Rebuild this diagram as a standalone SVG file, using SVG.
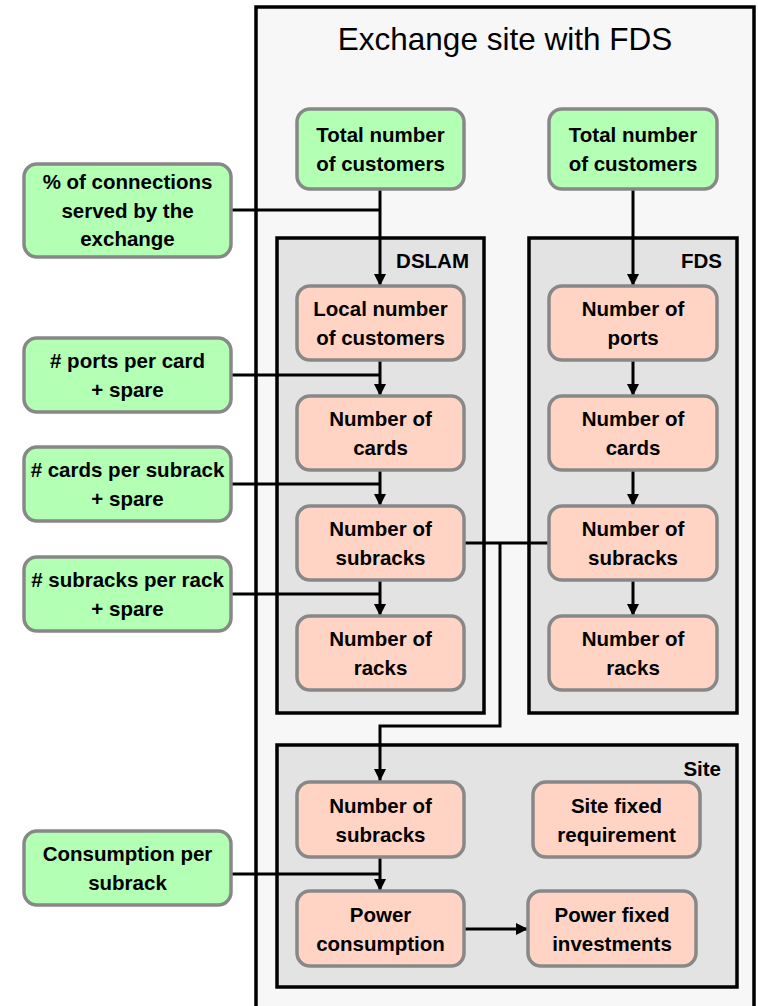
<svg xmlns="http://www.w3.org/2000/svg" width="758" height="1006" viewBox="0 0 758 1006">
<defs>
<style>
.outer{fill:#f7f7f7;stroke:#000;stroke-width:3.5}
.grp{fill:#e3e3e3;stroke:#000;stroke-width:3.5}
.g{fill:#b3ffb3;stroke:#888;stroke-width:3.5}
.p{fill:#ffd4c4;stroke:#888;stroke-width:3.5}
.t{font-family:"Liberation Sans",Arial,sans-serif;font-weight:bold;font-size:20.5px;fill:#000;text-anchor:middle}
.lbl{font-family:"Liberation Sans",Arial,sans-serif;font-weight:bold;font-size:20.5px;fill:#000;text-anchor:end}
.title{font-family:"Liberation Sans",Arial,sans-serif;font-size:31.5px;fill:#000;text-anchor:middle}
.c{fill:none;stroke:#000;stroke-width:3}
</style>
<marker id="ah" viewBox="0 0 10 10" refX="10" refY="5" markerWidth="4" markerHeight="4" orient="auto" markerUnits="strokeWidth">
<path d="M0,0 L10,5 L0,10 Z" fill="#000"/>
</marker>
</defs>

<g id="exchange-site">
<rect class="outer" x="256" y="7" width="498" height="1010"/>
<text class="title" x="505" y="50">Exchange site with FDS</text>
</g>

<g id="dslam-group">
<rect class="grp" x="277" y="238" width="207" height="475"/>
<text class="lbl" x="469" y="268">DSLAM</text>
</g>
<g id="fds-group">
<rect class="grp" x="529" y="238" width="208" height="475"/>
<text class="lbl" x="722" y="268">FDS</text>
</g>
<g id="site-group">
<rect class="grp" x="277" y="745" width="460" height="242"/>
<text class="lbl" x="721" y="776">Site</text>
</g>

<g id="connectors">
<path class="c" d="M230,210 H380"/>
<path class="c" d="M380,189 V286" marker-end="url(#ah)"/>
<path class="c" d="M633,189 V286" marker-end="url(#ah)"/>
<path class="c" d="M230,375 H380"/>
<path class="c" d="M380,360 V396" marker-end="url(#ah)"/>
<path class="c" d="M230,484 H380"/>
<path class="c" d="M380,470 V506" marker-end="url(#ah)"/>
<path class="c" d="M230,594 H380"/>
<path class="c" d="M380,580 V616" marker-end="url(#ah)"/>
<path class="c" d="M633,360 V396" marker-end="url(#ah)"/>
<path class="c" d="M633,470 V506" marker-end="url(#ah)"/>
<path class="c" d="M633,580 V616" marker-end="url(#ah)"/>
<path class="c" d="M463,543 H549"/>
<path class="c" d="M500,543 V726 H380 V781" marker-end="url(#ah)"/>
<path class="c" d="M230,874 H380"/>
<path class="c" d="M380,857 V891" marker-end="url(#ah)"/>
<path class="c" d="M463,929 H528" marker-end="url(#ah)"/>
</g>

<g id="total-customers-dslam">
<rect class="g" x="297" y="109" width="167" height="80" rx="13"/>
<text class="t" x="380.5" y="142">Total number</text>
<text class="t" x="380.5" y="171">of customers</text>
</g>
<g id="total-customers-fds">
<rect class="g" x="549" y="109" width="168" height="80" rx="13"/>
<text class="t" x="633" y="142">Total number</text>
<text class="t" x="633" y="171">of customers</text>
</g>
<g id="pct-connections">
<rect class="g" x="24" y="164" width="207" height="93" rx="13"/>
<text class="t" x="127.5" y="189">% of connections</text>
<text class="t" x="127.5" y="218">served by the</text>
<text class="t" x="127.5" y="246">exchange</text>
</g>
<g id="ports-per-card">
<rect class="g" x="24" y="338" width="207" height="74" rx="13"/>
<text class="t" x="127.5" y="368"># ports per card</text>
<text class="t" x="127.5" y="397">+ spare</text>
</g>
<g id="cards-per-subrack">
<rect class="g" x="24" y="447" width="207" height="74" rx="13"/>
<text class="t" x="127.5" y="477"># cards per subrack</text>
<text class="t" x="127.5" y="506">+ spare</text>
</g>
<g id="subracks-per-rack">
<rect class="g" x="24" y="557" width="207" height="74" rx="13"/>
<text class="t" x="127.5" y="587"># subracks per rack</text>
<text class="t" x="127.5" y="616">+ spare</text>
</g>
<g id="consumption-per-subrack">
<rect class="g" x="24" y="831" width="207" height="74" rx="13"/>
<text class="t" x="127.5" y="861">Consumption per</text>
<text class="t" x="127.5" y="890">subrack</text>
</g>

<g id="dslam-local-customers">
<rect class="p" x="297" y="286" width="167" height="74" rx="13"/>
<text class="t" x="380.5" y="316">Local number</text>
<text class="t" x="380.5" y="345">of customers</text>
</g>
<g id="dslam-cards">
<rect class="p" x="297" y="396" width="167" height="74" rx="13"/>
<text class="t" x="380.5" y="426">Number of</text>
<text class="t" x="380.5" y="455">cards</text>
</g>
<g id="dslam-subracks">
<rect class="p" x="297" y="506" width="167" height="74" rx="13"/>
<text class="t" x="380.5" y="536">Number of</text>
<text class="t" x="380.5" y="565">subracks</text>
</g>
<g id="dslam-racks">
<rect class="p" x="297" y="616" width="167" height="74" rx="13"/>
<text class="t" x="380.5" y="646">Number of</text>
<text class="t" x="380.5" y="675">racks</text>
</g>

<g id="fds-ports">
<rect class="p" x="549" y="286" width="168" height="74" rx="13"/>
<text class="t" x="633" y="316">Number of</text>
<text class="t" x="633" y="345">ports</text>
</g>
<g id="fds-cards">
<rect class="p" x="549" y="396" width="168" height="74" rx="13"/>
<text class="t" x="633" y="426">Number of</text>
<text class="t" x="633" y="455">cards</text>
</g>
<g id="fds-subracks">
<rect class="p" x="549" y="506" width="168" height="74" rx="13"/>
<text class="t" x="633" y="536">Number of</text>
<text class="t" x="633" y="565">subracks</text>
</g>
<g id="fds-racks">
<rect class="p" x="549" y="616" width="168" height="74" rx="13"/>
<text class="t" x="633" y="646">Number of</text>
<text class="t" x="633" y="675">racks</text>
</g>

<g id="site-subracks">
<rect class="p" x="297" y="782" width="167" height="75" rx="13"/>
<text class="t" x="380.5" y="813">Number of</text>
<text class="t" x="380.5" y="842">subracks</text>
</g>
<g id="site-fixed-requirement">
<rect class="p" x="533" y="782" width="167" height="75" rx="13"/>
<text class="t" x="616.5" y="813">Site fixed</text>
<text class="t" x="616.5" y="842">requirement</text>
</g>
<g id="power-consumption">
<rect class="p" x="297" y="891" width="167" height="75" rx="13"/>
<text class="t" x="380.5" y="922">Power</text>
<text class="t" x="380.5" y="951">consumption</text>
</g>
<g id="power-fixed-investments">
<rect class="p" x="528" y="891" width="168" height="75" rx="13"/>
<text class="t" x="612" y="922">Power fixed</text>
<text class="t" x="612" y="951">investments</text>
</g>
</svg>
